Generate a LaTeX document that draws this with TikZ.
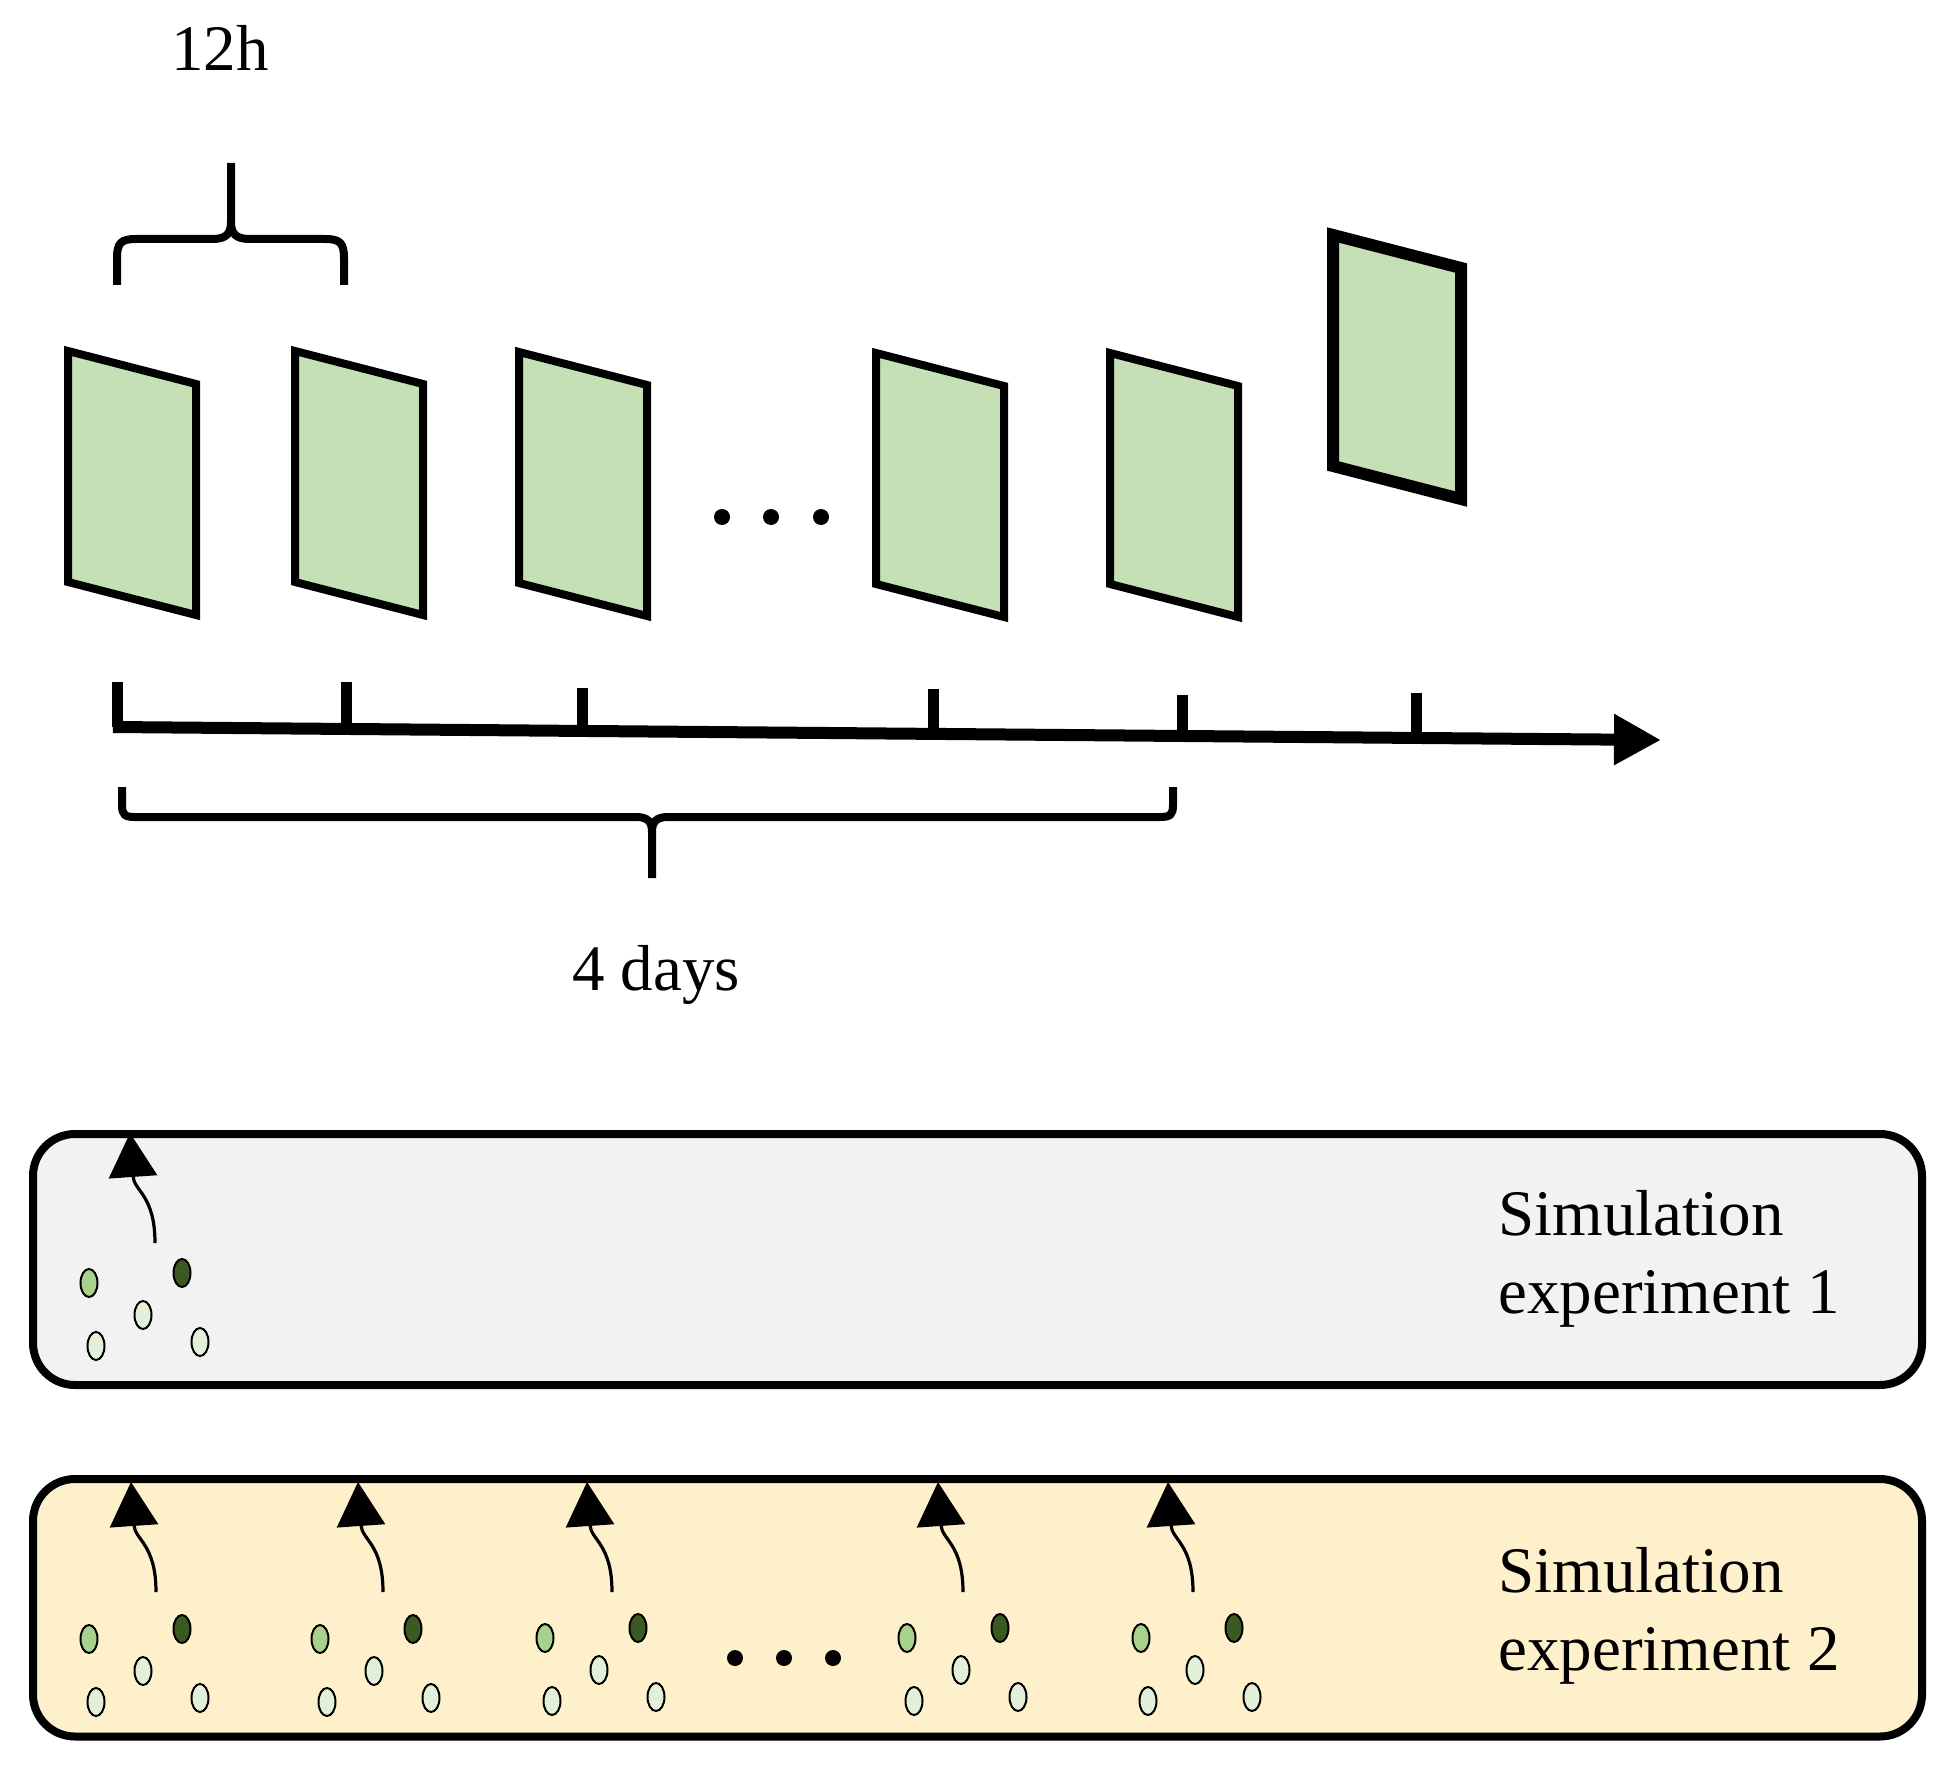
\documentclass[tikz,border=0pt]{standalone}
\usepackage{fontspec}
\setmainfont{Liberation Serif}
\usetikzlibrary{arrows.meta,shapes.geometric,calc}
\definecolor{framefill}{HTML}{C5E0B4}
\definecolor{boxgray}{HTML}{F2F2F2}
\definecolor{boxcream}{HTML}{FFF0CC}
\definecolor{seedmid}{HTML}{A9D18E}
\definecolor{seeddark}{HTML}{3A5A22}
\definecolor{seedpale}{HTML}{E2F0D9}
\newcommand\frm[3]{\draw[#3] (#1,#2) -- ++(128,33) -- ++(0,231) -- ++(-128,-33) -- cycle;}
\newcommand\grp[5]{%
  \node[seed, fill=seedmid] (#1m) at (#2,#3) {};
  \node[seed, fill=seeddark] (#1d) at ($(#1m)+(93,-10)$) {};
  \node[seed, fill=seedpale] (#1a) at ($(#1m)+(54,32)$) {};
  \node[seed, fill=seedpale] (#1b) at ($(#1m)+(7,63)$) {};
  \node[seed, fill=seedpale] (#1c) at ($(#1m)+(111,59)$) {};
  \coordinate (#1t) at (#4,#5);
  \coordinate (#1h) at ($(#1t)+(-25,-110)$);
  \draw[flow] (#1t) .. controls ($(#1t)+(0,-48)$) and ($(#1h)+(4,58)$) .. (#1h);
}
\begin{document}
\begin{tikzpicture}[x=0.5pt,y=-0.5pt,
  frame/.style={fill=framefill, draw=black, line width=4pt},
  thickframe/.style={fill=framefill, draw=black, line width=6pt},
  brace/.style={draw=black, line width=4pt},
  axisline/.style={draw=black, line width=6pt, -{Triangle[length=23.5pt,width=24pt]}},
  tickmark/.style={draw=black, line width=5.5pt},
  dotmark/.style={circle, fill=black, inner sep=0pt, minimum size=8pt},
  lbl/.style={font=\fontsize{32.5pt}{39pt}\selectfont, inner sep=0pt},
  simbox/.style={draw=black, line width=4pt, rounded corners=21pt, minimum width=944.5pt, inner sep=0pt},
  seed/.style={ellipse, draw=black, line width=1pt, minimum width=8.5pt, minimum height=14pt, inner sep=0pt},
  flow/.style={draw=black, line width=1.6pt, -{Triangle[length=22pt,width=24pt]}}
]
\useasboundingbox (0,0) rectangle (1958,1765);

% top label and brace
\node[lbl, anchor=base] (lab12) at (220,71) {12h};
\draw[brace] (117,285) -- (117,258) .. controls (117,243) and (121,239) .. (136,239) -- (212,239) .. controls (226,239) and (231,234) .. (231,222) -- (231,163);
\draw[brace] (344,285) -- (344,258) .. controls (344,243) and (340,239) .. (325,239) -- (250,239) .. controls (236,239) and (231,234) .. (231,222);

% frames
\frm{68}{351}{frame}
\frm{295}{351}{frame}
\frm{519}{352}{frame}
\frm{876}{353}{frame}
\frm{1110}{353}{frame}
\frm{1333}{235}{thickframe}

% dots between frames
\node[dotmark] (td1) at (722,517) {};
\node[dotmark] (td2) at (771,517) {};
\node[dotmark] (td3) at (821,517) {};

% time axis
\coordinate (ax0) at (113,727);
\coordinate (ax1) at (1661,740);
\draw[axisline] (ax0) -- (ax1);
\coordinate (k1t) at (117.5,682); \coordinate (k1b) at (117.5,727);
\coordinate (k2t) at (346,682);   \coordinate (k2b) at (346,729);
\coordinate (k3t) at (582,688);   \coordinate (k3b) at (582,731);
\coordinate (k4t) at (933,689);   \coordinate (k4b) at (933,734);
\coordinate (k5t) at (1182,695);  \coordinate (k5b) at (1182,736);
\coordinate (k6t) at (1416,693);  \coordinate (k6b) at (1416,738);
\foreach \k in {1,...,6} {\draw[tickmark] (k\k t) -- (k\k b);}

% bottom brace and label
\draw[brace] (122,787) -- (122,805) .. controls (122,815) and (125,817) .. (135,817) -- (636,817) .. controls (648,817) and (652,822) .. (652,832) -- (652,878);
\draw[brace] (1173,787) -- (1173,805) .. controls (1173,815) and (1170,817) .. (1160,817) -- (668,817) .. controls (656,817) and (652,822) .. (652,832);
\node[lbl, anchor=base] (lab4d) at (656,990) {4 days};

% simulation experiment 1
\node[simbox, fill=boxgray, minimum height=125.5pt] (sim1) at (977.5,1259.5) {};
\node[lbl, anchor=base west] (s1a) at (1498,1235) {Simulation};
\node[lbl, anchor=base west] (s1b) at (1498,1313) {experiment 1};
\grp{ga}{89}{1283}{155}{1243}

% simulation experiment 2
\node[simbox, fill=boxcream, minimum height=128.75pt] (sim2) at (977.5,1607.75) {};
\node[lbl, anchor=base west] (s2a) at (1498,1592) {Simulation};
\node[lbl, anchor=base west] (s2b) at (1498,1670) {experiment 2};
\grp{gb}{89}{1639}{156}{1592}
\grp{gc}{320}{1639}{383}{1592}
\grp{gd}{545}{1638}{612}{1592}
\grp{ge}{907}{1638}{963}{1592}
\grp{gf}{1141}{1638}{1193}{1592}
\node[dotmark] (bd1) at (735,1658) {};
\node[dotmark] (bd2) at (784,1658) {};
\node[dotmark] (bd3) at (833,1658) {};
\end{tikzpicture}
\end{document}
